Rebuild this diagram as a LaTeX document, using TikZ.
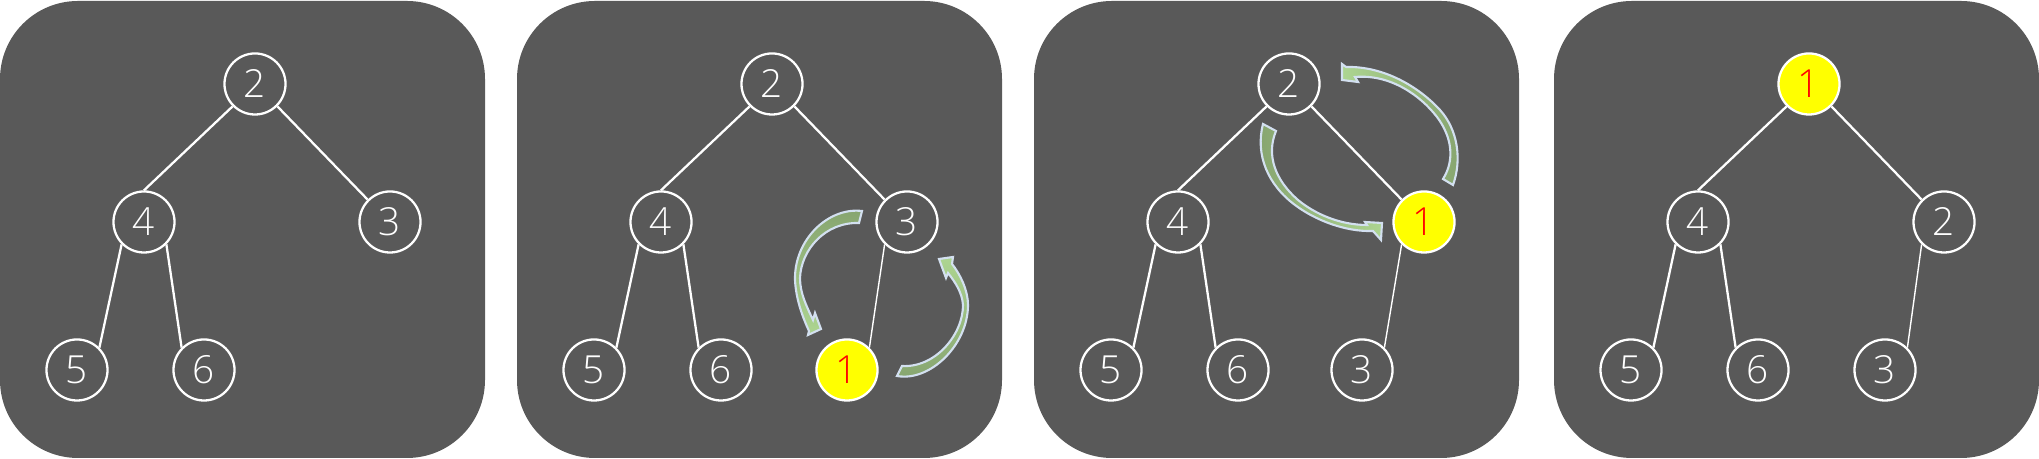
\documentclass[tikz,border=0pt]{standalone}
\usepackage{fontspec}
\setmainfont{Open Sans Light}
\usepackage{tikz}
\usetikzlibrary{arrows.meta, positioning}

\definecolor{panelgray}{HTML}{595959}
\definecolor{heapyellow}{HTML}{FFFF00}
\definecolor{heapred}{HTML}{FF0000}
\definecolor{swapdark}{HTML}{86A46F}
\definecolor{swaplight}{HTML}{ADD591}
\definecolor{swapedge}{HTML}{D3E0F0}

\begin{document}
\begin{tikzpicture}[x=0.01cm, y=-0.01cm,
    heapnode/.style={circle, draw=white, line width=0.65pt, minimum size=0.61cm,
      inner sep=0pt, text=white, font=\fontsize{11}{12}\selectfont},
    minnode/.style={heapnode, fill=heapyellow, text=heapred},
    heapedge/.style={draw=white, line width=0.65pt},
    thinedge/.style={draw=white, line width=0.4pt},
    swaparrow/.style={draw=swapedge, line width=0.6pt, line join=miter}]
  \useasboundingbox (0,0) rectangle (2039,459);

  % four grey panels
  \foreach \px in {0,517,1034,1554}
    \fill[panelgray, rounded corners=0.78cm] (\px,1) rectangle ++(485,457);

  % panel 1: the heap before insertion
  \begin{scope}[shift={(0,0)}]
    \node[heapnode] (a2) at (255,84) {2};
    \node[heapnode] (a4) at (144,222) {4};
    \node[heapnode] (a3) at (390,222) {3};
    \node[heapnode] (a5) at (77,370) {5};
    \node[heapnode] (a6) at (204,370) {6};
    \draw[heapedge] (a2.south west) -- (a4.north);
    \draw[heapedge] (a2.south east) -- (a3.north west);
    \draw[heapedge] (a4.south west) -- (a5.north east);
    \draw[heapedge] (a4.south east) -- (a6.north west);
  \end{scope}

  % panel 2: new key added as last leaf
  \begin{scope}[shift={(517,0)}]
    \node[heapnode] (b2) at (255,84) {2};
    \node[heapnode] (b4) at (144,222) {4};
    \node[heapnode] (b3) at (390,222) {3};
    \node[heapnode] (b5) at (77,370) {5};
    \node[heapnode] (b6) at (204,370) {6};
    \node[minnode] (b1) at (330,370) {1};
    \draw[heapedge] (b2.south west) -- (b4.north);
    \draw[heapedge] (b2.south east) -- (b3.north west);
    \draw[heapedge] (b4.south west) -- (b5.north east);
    \draw[heapedge] (b4.south east) -- (b6.north west);
    \draw[thinedge] (b3.south west) -- (b1.north east);
  \end{scope}

  % swap 3 <-> 1
  \path[swaparrow, top color=swapdark, bottom color=swaplight]
    (862,211) .. controls (828,207) and (794,240) .. (795,280)
    .. controls (796,300) and (803,318) .. (809,331)
    -- (808,335) -- (821,329) -- (815,313) -- (813,320)
    .. controls (806,305) and (800,293) .. (800,278)
    .. controls (801,250) and (825,222) .. (859,223) -- cycle;
  \path[swaparrow, top color=swaplight, bottom color=swapdark]
    (897,376) .. controls (930,382) and (968,345) .. (968,305)
    .. controls (968,290) and (960,274) .. (952,264)
    -- (953,257) -- (939,259) -- (946,278) -- (948,273)
    .. controls (955,282) and (962,292) .. (963,305)
    .. controls (963,335) and (935,368) .. (902,366) -- cycle;

  % panel 3: 1 moved up one level
  \begin{scope}[shift={(1034,0)}]
    \node[heapnode] (c2) at (255,84) {2};
    \node[heapnode] (c4) at (144,222) {4};
    \node[minnode] (c1) at (390,222) {1};
    \node[heapnode] (c5) at (77,370) {5};
    \node[heapnode] (c6) at (204,370) {6};
    \node[heapnode] (c3) at (328,370) {3};
    \draw[heapedge] (c2.south west) -- (c4.north);
    \draw[heapedge] (c2.south east) -- (c1.north west);
    \draw[heapedge] (c4.south west) -- (c5.north east);
    \draw[heapedge] (c4.south east) -- (c6.north west);
    \draw[thinedge] (c1.south west) -- (c3.north east);
  \end{scope}

  % swap 2 <-> 1
  \path[swaparrow, left color=swaplight, right color=swapdark]
    (1453,185) .. controls (1462,160) and (1458,130) .. (1440,110)
    .. controls (1420,88) and (1385,66) .. (1346,67)
    -- (1342,64) -- (1342,80) -- (1358,82) -- (1355,77)
    .. controls (1390,74) and (1420,95) .. (1437,117)
    .. controls (1452,137) and (1455,160) .. (1443,179) -- cycle;
  \path[swaparrow, left color=swapdark, right color=swaplight]
    (1263,124) .. controls (1255,155) and (1268,185) .. (1295,205)
    .. controls (1315,220) and (1345,232) .. (1373,231)
    -- (1381,240) -- (1382,223) -- (1365,222) -- (1367,225)
    .. controls (1340,225) and (1315,214) .. (1298,200)
    .. controls (1275,180) and (1266,155) .. (1276,131) -- cycle;

  % panel 4: 1 at the root
  \begin{scope}[shift={(1554,0)}]
    \node[minnode] (d1) at (255,84) {1};
    \node[heapnode] (d4) at (144,222) {4};
    \node[heapnode] (d2) at (390,222) {2};
    \node[heapnode] (d5) at (77,370) {5};
    \node[heapnode] (d6) at (204,370) {6};
    \node[heapnode] (d3) at (331,370) {3};
    \draw[heapedge] (d1.south west) -- (d4.north);
    \draw[heapedge] (d1.south east) -- (d2.north west);
    \draw[heapedge] (d4.south west) -- (d5.north east);
    \draw[heapedge] (d4.south east) -- (d6.north west);
    \draw[thinedge] (d2.south west) -- (d3.north east);
  \end{scope}
\end{tikzpicture}
\end{document}
